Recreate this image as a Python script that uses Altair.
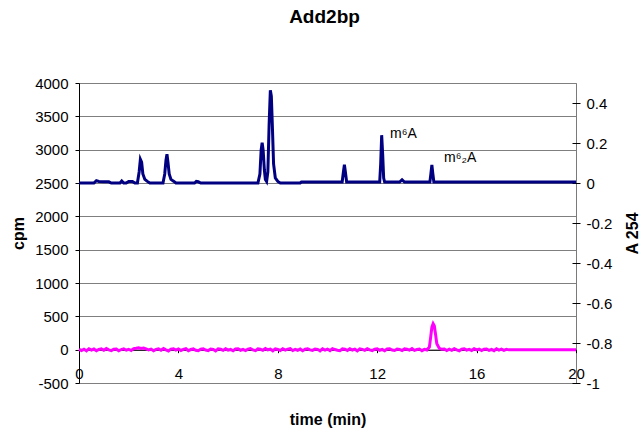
import altair as alt
import pandas as pd

FONT = "Liberation Sans"

# ---- blue trace: A254 (right axis) ----
blue_t = [0.0, 0.6, 0.7, 0.8, 1.0, 1.2, 1.3, 1.65, 1.72, 1.8, 1.9, 2.0, 2.15, 2.25,
          2.35, 2.42, 2.47, 2.52, 2.57, 2.65, 2.75, 2.85, 3.38, 3.45, 3.5, 3.54, 3.58,
          3.63, 3.7, 3.82, 3.9, 4.65, 4.72, 4.8, 4.9, 7.2, 7.28, 7.33, 7.37, 7.41, 7.46,
          7.5, 7.55, 7.6, 7.65, 7.7, 7.74, 7.78, 7.83, 7.9, 8.0, 8.1, 8.9, 8.95, 10.59,
          10.64, 10.68, 10.72, 10.77, 12.1, 12.14, 12.18, 12.22, 12.26, 12.3, 12.9, 13.0,
          13.1, 14.12, 14.16, 14.2, 14.24, 14.28, 20.0]
blue_a = [0, 0, 0.012, 0.008, 0.006, 0.006, 0, 0, 0.01, 0, 0, 0.008, 0.008, 0,
          0, 0.055, 0.118, 0.104, 0.045, 0.018, 0.008, 0, 0, 0.045, 0.114, 0.144, 0.104,
          0.045, 0.018, 0.008, 0, 0, 0.008, 0.006, 0, 0, 0.045, 0.164, 0.202, 0.164, 0.065,
          0.018, 0.008, 0.055, 0.29, 0.464, 0.434, 0.29, 0.095, 0.025, 0.008, 0, 0, 0.005, 0.005,
          0.055, 0.091, 0.055, 0.005, 0.005, 0.095, 0.239, 0.145, 0.025, 0.005, 0.005, 0.016,
          0.005, 0.005, 0.045, 0.091, 0.045, 0.005, 0.005]

# ---- pink trace: cpm (left axis) ----
pink_noise_a = [5, -12, 8, -18, 14, -6, 10, -15, 3, 12,
                -9, 16, -4, -14, 7, 11, -17, 2, 13, -8,
                6, -13, 15, 20, 28, 18, 25, 12, -5, 9,
                -16, 4, 12, -10, 17, -3, -19, 8, 14, -7,
                10, -12, 5, 16, -15, 2, 11, -9, -16, 7,
                13, -5, -14, 9, 4, -18, 12, 6, -11, 15,
                -7, 3, -16, 10, 14, -9, 5, -13, 8, 17,
                -4, -15, 11, 6, -10, 16, -2, 9, -17, 12,
                3, -12, 14, -6, 8, 15, -14, 4, -9, 11,
                -16, 7, 13, -3, -11, 10, 5, -18, 12, -6,
                9, -14, 16, 2, -8, -15, 11, 6, -12, 14,
                -5, 8, -17, 13, 4, -10, 15, -3, -13, 7,
                12, -9, 5, -16, 10, 14, -6, -12, 8, 3,
                -14, 11, 6, -8, 15, -11, 2, 9, -15, 4]
pink_peak_t = [14.0, 14.1, 14.15, 14.2, 14.25, 14.3, 14.35, 14.4, 14.5, 14.6]
pink_peak_v = [-5, 40, 180, 340, 390, 355, 225, 90, 20, 5]
pink_noise_b = [10, -13, 7, -9, 14, -4, -16, 8, 12, -7, 5, -12, 15, -3, 9, -14,
                6, 11, -10, 3, -15, 13, -6, 8, -11, 4]
pink_tail_t = [17.3, 20.0]
pink_tail_v = [-3, -3]

# ---- annotations ----
ann_text = ["m\u2076A", "m\u2076\u2082A"]
ann_t = [12.52, 14.69]
ann_cpm = [3175, 2815]

left_ticks = [-500, 0, 500, 1000, 1500, 2000, 2500, 3000, 3500, 4000]
right_ticks = [-1, -0.8, -0.6, -0.4, -0.2, 0, 0.2, 0.4]
x_ticks = [0, 4, 8, 12, 16, 20]

pink_t = [round(i * 0.1, 1) for i in range(len(pink_noise_a))] + pink_peak_t + \
         [round(14.7 + i * 0.1, 1) for i in range(len(pink_noise_b))] + pink_tail_t
pink_v = pink_noise_a + pink_peak_v + pink_noise_b + pink_tail_v

blue_df = pd.DataFrame({"t": blue_t, "a": blue_a})
pink_df = pd.DataFrame({"t": pink_t, "cpm": pink_v})
ann_df = pd.DataFrame({"t": ann_t, "cpm": ann_cpm, "label": ann_text})

W, H = 497, 300

x_axis = alt.Axis(values=x_ticks, title="time (min)", offset=-H * 500 / 4500,
                  domainColor="black", tickColor="black", tickSize=3,
                  labelPadding=14, labelFontSize=15, labelFlush=False,
                  labelOverlap=False, labelExpr="'' + datum.value",
                  titleFontSize=16, titleFontWeight="bold", titlePadding=30,
                  grid=False, labelColor="black", titleColor="black")
x_scale = alt.Scale(domain=[0, 20], nice=False)

left_axis = alt.Axis(values=left_ticks, title="cpm", orient="left",
                     domainColor="black", tickColor="black", tickSize=4,
                     labelPadding=7, labelFontSize=15, labelExpr="'' + datum.value",
                     labelOverlap=False,
                     grid=True, gridColor="#7f7f7f", gridWidth=1,
                     titleFontSize=16, titleFontWeight="bold", titlePadding=8,
                     labelColor="black", titleColor="black")
left_scale = alt.Scale(domain=[-500, 4000], nice=False, zero=False)

pink = alt.Chart(pink_df).mark_line(color="#FF00FF", strokeWidth=3).encode(
    x=alt.X("t:Q", scale=x_scale, axis=x_axis),
    y=alt.Y("cpm:Q", scale=left_scale, axis=left_axis),
)

ann = alt.Chart(ann_df).mark_text(align="left", baseline="alphabetic", fontSize=14,
                                  font=FONT, color="black").encode(
    x=alt.X("t:Q", scale=x_scale, axis=x_axis),
    y=alt.Y("cpm:Q", scale=left_scale, axis=left_axis),
    text="label:N",
)

blue = alt.Chart(blue_df).mark_line(color="#000080", strokeWidth=3).encode(
    x=alt.X("t:Q", scale=x_scale, axis=x_axis),
    y=alt.Y("a:Q", scale=alt.Scale(domain=[-1, 0.5], nice=False, zero=False),
            axis=alt.Axis(values=right_ticks, title="A 254", orient="right",
                          domain=False, offset=-4, tickColor="black", tickSize=8,
                          labelPadding=6, labelFontSize=15, labelExpr="'' + datum.value",
                          labelOverlap=False,
                          grid=False, titleFontSize=16, titleFontWeight="bold",
                          titleAngle=270, titleBaseline="middle", titleAlign="center",
                          titleX=60, titleY=H / 2,
                          labelColor="black", titleColor="black")),
)

left = alt.layer(pink, ann)

chart = alt.layer(left, blue).resolve_scale(y="independent").properties(
    width=W, height=H,
    title=alt.TitleParams("Add2bp", fontSize=19, fontWeight="bold", font=FONT,
                          anchor="middle", frame="group", baseline="alphabetic",
                          offset=34, dx=-3, color="black"),
    autosize=alt.AutoSizeParams(type="none"),
    padding={"left": 79, "top": 83, "right": 65, "bottom": 49},
).configure(font=FONT, background="white").configure_view(
    stroke="#7a7a7a", strokeWidth=1
).configure_axis(labelFont=FONT, titleFont=FONT, labelOverlap=False)

chart.save("out.html", embed_options={"renderer": "svg", "actions": False})
